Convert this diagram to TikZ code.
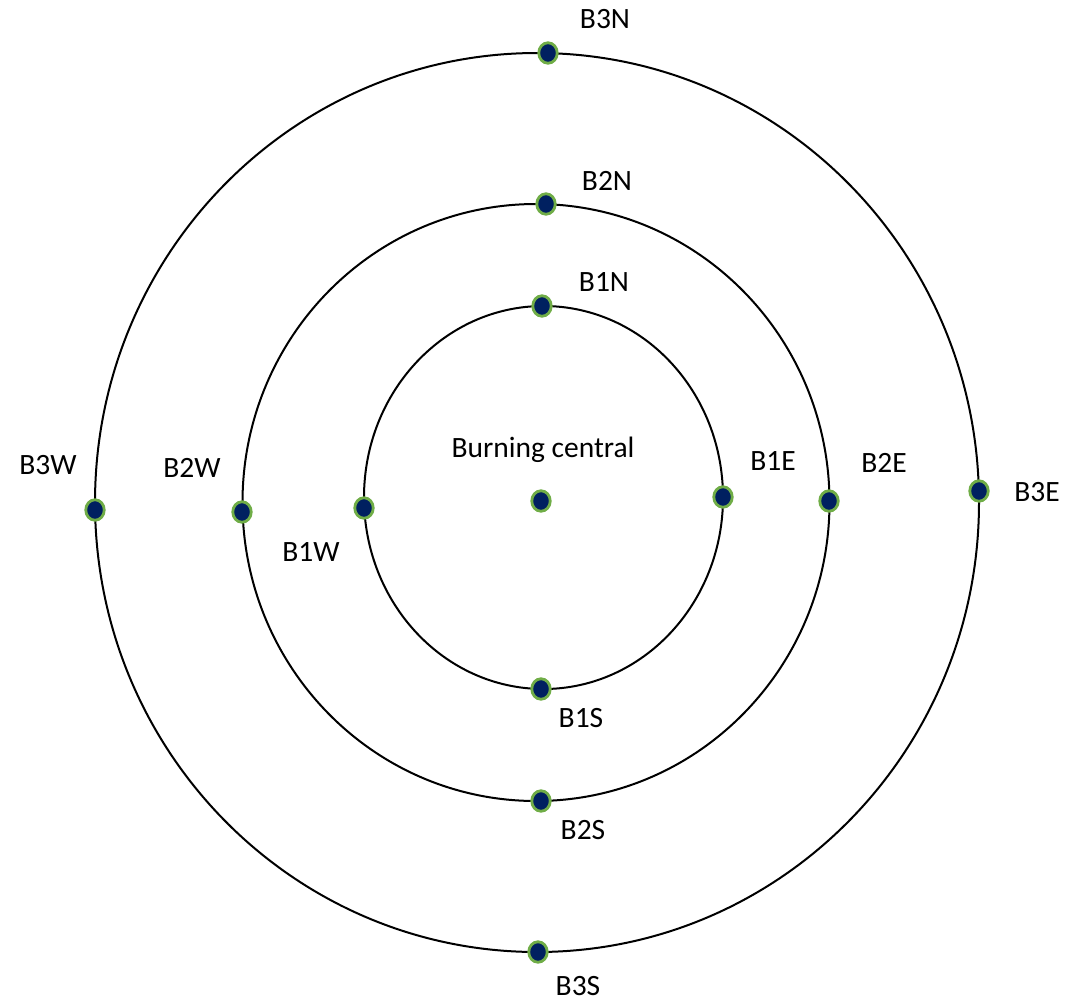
\documentclass[tikz,border=0pt]{standalone}
\usepackage{fontspec}
\setmainfont{Carlito}
\usetikzlibrary{shapes.geometric}
\definecolor{navy}{RGB}{0,32,96}
\definecolor{dotgreen}{RGB}{112,173,71}
\tikzset{
  ring/.style={draw=black, line width=2pt},
  pt/.style={ellipse, fill=navy, draw=dotgreen, line width=2.8pt, minimum width=18.5pt, minimum height=20.5pt, inner sep=0pt},
  lbl/.style={font=\fontsize{29.5}{33}\selectfont, inner sep=0pt, text=black}
}
\begin{document}
\begin{tikzpicture}[x=1pt,y=-1pt]
\useasboundingbox (0,0) rectangle (1065,1004);
% rings
\draw[ring] (537,502.5) ellipse [x radius=442, y radius=449.5];
\draw[ring] (536,502.5) ellipse [x radius=293.5, y radius=298.5];
\draw[ring] (543.5,497.5) ellipse [x radius=179.5, y radius=191.5];
% dots
\node[pt] (c) at (541,501) {};
\node[pt] (b1n) at (542,306) {};
\node[pt] (b1s) at (541,689) {};
\node[pt] (b1w) at (364,508) {};
\node[pt] (b1e) at (723,497) {};
\node[pt] (b2n) at (546,204) {};
\node[pt] (b2s) at (541,801) {};
\node[pt] (b2w) at (242,512) {};
\node[pt] (b2e) at (829,501) {};
\node[pt] (b3n) at (548,53) {};
\node[pt] (b3s) at (538,952) {};
\node[pt] (b3w) at (95,510) {};
\node[pt] (b3e) at (979,491) {};
% labels
\node[lbl] (lc) at (543,450) {Burning central};
\node[lbl] (l1n) at (604,282) {B1N};
\node[lbl] (l1s) at (581,718) {B1S};
\node[lbl] (l1w) at (311,552) {B1W};
\node[lbl] (l1e) at (773,461) {B1E};
\node[lbl] (l2n) at (607,181) {B2N};
\node[lbl] (l2s) at (583,830) {B2S};
\node[lbl] (l2w) at (192,468) {B2W};
\node[lbl] (l2e) at (884,463) {B2E};
\node[lbl] (l3n) at (605,19) {B3N};
\node[lbl] (l3s) at (578,986) {B3S};
\node[lbl] (l3w) at (48,465) {B3W};
\node[lbl] (l3e) at (1037,492) {B3E};
\end{tikzpicture}
\end{document}
